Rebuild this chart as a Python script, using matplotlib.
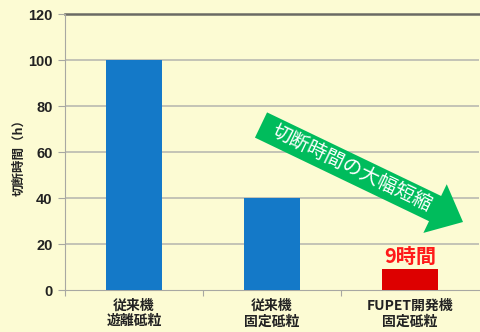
import matplotlib
matplotlib.use("Agg")
import matplotlib.pyplot as plt
from matplotlib.patches import Polygon
import numpy as np

plt.rcParams['font.family'] = ['Noto Sans CJK JP', 'DejaVu Sans']

categories = ["従来機\n遊離砥粒", "従来機\n固定砥粒", "FUPET開発機\n固定砥粒"]
hours = [100, 40, 9]
bar_colors = ["#1479C8", "#1479C8", "#DD0000"]
y_ticks = [0, 20, 40, 60, 80, 100, 120]
y_label = "切断時間（h）"
value_label = "9時間"
arrow_text = "切断時間の大幅短縮"

W, H = 481, 332
bg = "#FCFBD3"
fig = plt.figure(figsize=(W / 100, H / 100), dpi=100, facecolor=bg)
ax = fig.add_axes([65 / W, 1 - 290 / H, 414 / W, 276 / H])
ax.set_facecolor(bg)

x = np.arange(len(categories))
ax.bar(x, hours, width=0.4, color=bar_colors, zorder=3)
ax.set_xlim(-0.5, len(categories) - 0.5)
ax.set_ylim(0, 120)

# gridlines
for v in y_ticks[1:-1]:
    ax.axhline(v, color="#B4B4AE", lw=1.1, zorder=1)
ax.axhline(120, color="#6A6A64", lw=1.8, zorder=1, clip_on=False)

for s in ["top", "right"]:
    ax.spines[s].set_visible(False)
ax.spines["left"].set_color("#A8A8A2")
ax.spines["bottom"].set_color("#A8A8A2")

ax.set_yticks(y_ticks)
ax.set_yticklabels([str(v) for v in y_ticks], fontsize=10.5, fontweight="bold",
                   color="#222222", family=["Liberation Sans", "DejaVu Sans"])
ax.tick_params(axis="y", length=5, color="#A8A8A2", pad=4)

ax.set_xticks([-0.5, 0.5, 1.5], minor=False)
ax.set_xticklabels([])
ax.tick_params(axis="x", length=4, color="#A8A8A2")
for xi, lab in zip(x, categories):
    ax.text(xi, -4.0, lab, ha="center", va="top", fontsize=10,
            fontweight="bold", color="#222222", linespacing=1.1)

fig.text(19 / W, 1 - 155 / H, y_label, rotation=90, ha="center", va="center",
         fontsize=9, fontweight="bold", color="#222222")

# value label over the last bar
ax.text(x[2], hours[2] + 1.2, value_label, ha="center", va="bottom",
        fontsize=14.5, fontweight="bold", color="#FF1A1A")

# decorative arrow in pixel space (origin top-left)
def px(pt):
    return (pt[0] / W, 1 - pt[1] / H)

tail = np.array([261.0, 125.0])
tip = np.array([463.0, 222.0])
d = tip - tail
L = np.hypot(*d)
u = d / L
n = np.array([-u[1], u[0]])
shaft_hw, head_hw, head_len = 14.0, 27.0, 31.0
base = tip - u * head_len
pts = [tail + n * shaft_hw, base + n * shaft_hw, base + n * head_hw, tip,
       base - n * head_hw, base - n * shaft_hw, tail - n * shaft_hw]
fig.patches.append(Polygon([px(p) for p in pts], closed=True,
                           transform=fig.transFigure, facecolor="#00BC5C",
                           edgecolor="none", zorder=5))
mid = tail + u * (L - head_len) / 2 + u * 4
ang = -np.degrees(np.arctan2(d[1], d[0]))
fig.text(*px(mid), arrow_text, rotation=ang, rotation_mode="anchor",
         ha="center", va="center", fontsize=14, color="white", zorder=6)

fig.savefig("out.png", dpi=100, facecolor=bg)
